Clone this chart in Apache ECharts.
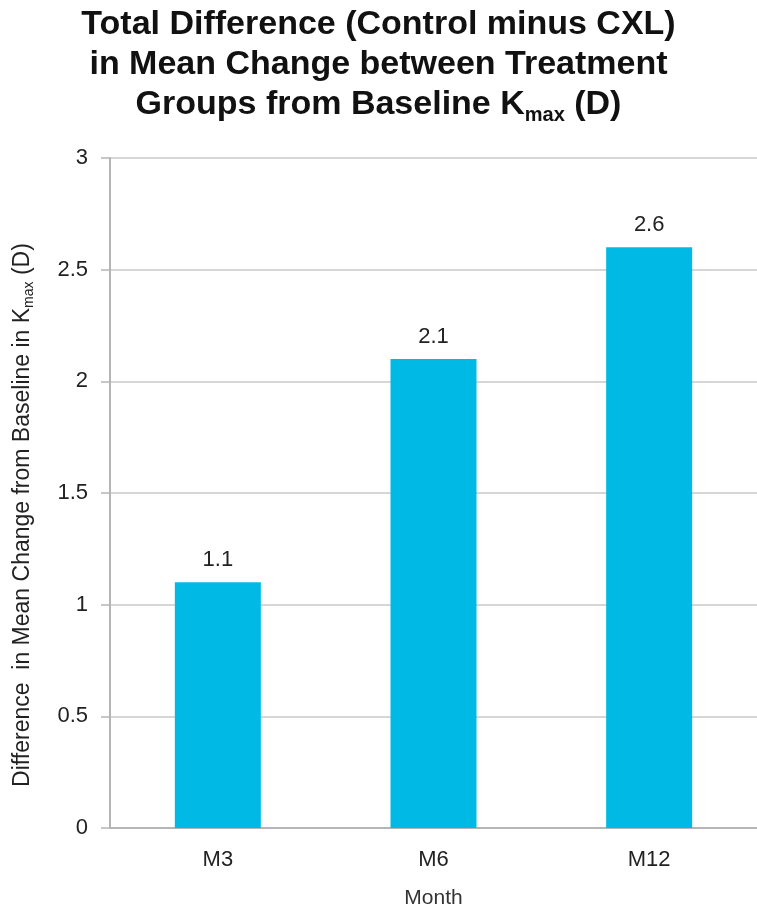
<!DOCTYPE html>
<html>
<head>
<meta charset="utf-8">
<script src="https://cdn.jsdelivr.net/npm/echarts@6/dist/echarts.min.js"></script>
<style>
html,body{margin:0;padding:0;background:#fff;}
#chart{width:757px;height:914px;}
</style>
</head>
<body>
<div id="chart"></div>
<script>
var categories = ['M3', 'M6', 'M12'];
var values = [1.1, 2.1, 2.6];
var yTicks = {min: 0, max: 3, interval: 0.5};

var FONT = "'Liberation Sans', Arial, sans-serif";
var chart = echarts.init(document.getElementById('chart'));
chart.setOption({
  animation: false,
  backgroundColor: '#ffffff',
  title: {
    left: 'center',
    top: 0,
    text: '{b|Total Difference (Control minus CXL)}\n{b|in Mean Change between Treatment}\n{b|Groups from Baseline K}{s|max}{b| (D)}',
    textStyle: {
      fontFamily: FONT,
      rich: {
        b: {fontSize: 34, fontWeight: 'bold', color: '#111', lineHeight: 40, fontFamily: FONT},
        s: {fontSize: 20, fontWeight: 'bold', color: '#111', lineHeight: 18, verticalAlign: 'bottom', fontFamily: FONT}
      }
    }
  },
  grid: {left: 110, top: 158, bottom: 77, width: 654, containLabel: false},
  xAxis: {
    type: 'category',
    data: categories,
    name: 'Month',
    nameLocation: 'middle',
    nameGap: 60,
    nameTextStyle: {fontFamily: FONT, fontSize: 21, color: '#333'},
    axisLine: {show: true, lineStyle: {color: '#b5b5b5', width: 2}},
    axisTick: {show: false},
    axisLabel: {fontFamily: FONT, fontSize: 22, color: '#222', margin: 21}
  },
  yAxis: {
    type: 'value',
    min: yTicks.min,
    max: yTicks.max,
    interval: yTicks.interval,
    name: '{a|Difference  in Mean Change from Baseline in K}{s|max}{a| (D)}',
    nameLocation: 'middle',
    nameRotate: 90,
    nameGap: 74,
    nameTextStyle: {
      fontFamily: FONT,
      padding: [0, 44, 0, 0],
      rich: {
        a: {fontSize: 23, color: '#222', fontFamily: FONT, lineHeight: 26},
        s: {fontSize: 14, color: '#222', fontFamily: FONT, lineHeight: 15, verticalAlign: 'bottom'}
      }
    },
    axisLine: {show: true, lineStyle: {color: '#b5b5b5', width: 2}},
    axisTick: {show: true, length: 9, lineStyle: {color: '#b5b5b5', width: 1.5}},
    splitLine: {show: true, lineStyle: {color: '#c8c8c8', width: 1.5}},
    axisLabel: {fontFamily: FONT, fontSize: 22, color: '#222', margin: 22}
  },
  series: [{
    type: 'bar',
    data: values,
    barWidth: 86,
    itemStyle: {color: '#00B9E4'},
    label: {show: true, position: 'top', distance: 11, fontFamily: FONT, fontSize: 22, color: '#222'}
  }]
});
</script>
</body>
</html>
